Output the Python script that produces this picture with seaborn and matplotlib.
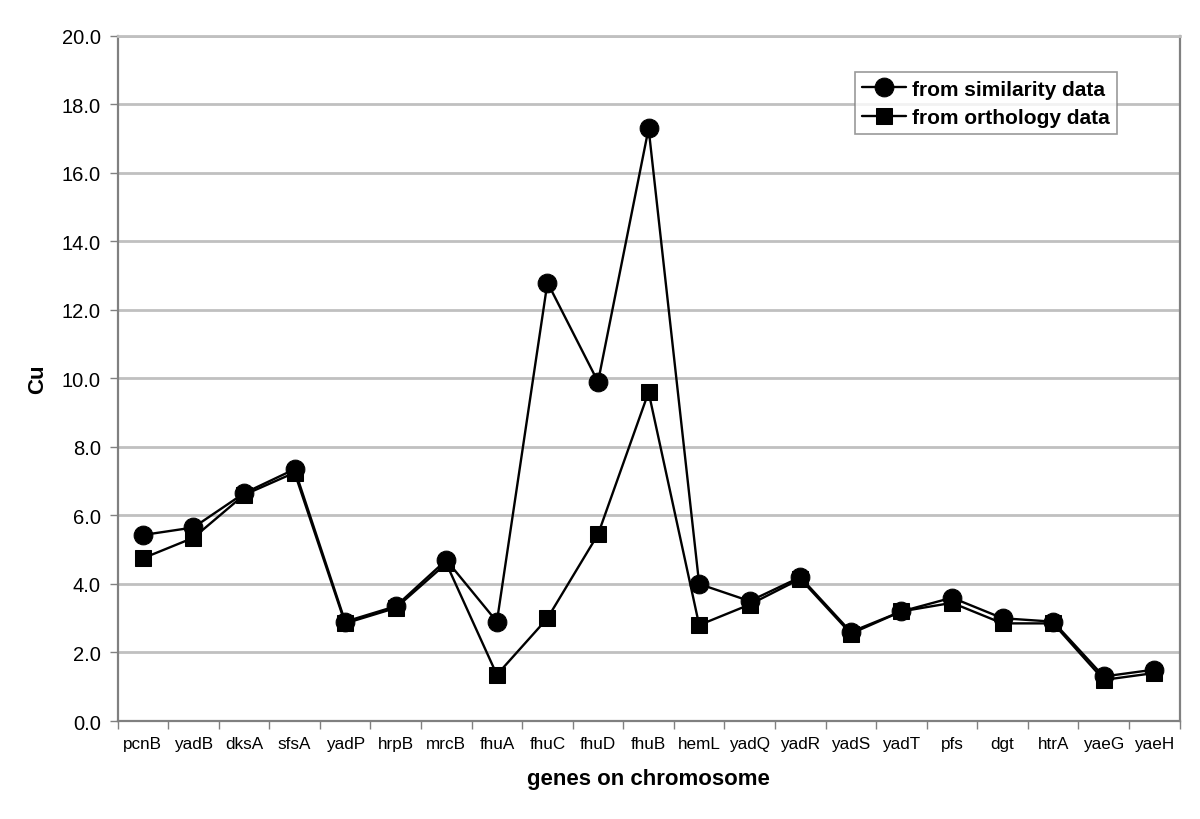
import numpy as np
import pandas as pd
import matplotlib
matplotlib.use('Agg')
import matplotlib.pyplot as plt
import seaborn as sns

genes = ['pcnB', 'yadB', 'dksA', 'sfsA', 'yadP', 'hrpB', 'mrcB', 'fhuA', 'fhuC', 'fhuD', 'fhuB',
         'hemL', 'yadQ', 'yadR', 'yadS', 'yadT', 'pfs', 'dgt', 'htrA', 'yaeG', 'yaeH']
similarity = [5.43, 5.65, 6.65, 7.35, 2.9, 3.35, 4.7, 2.9, 12.8, 9.9, 17.3,
              4.0, 3.5, 4.2, 2.6, 3.2, 3.6, 3.0, 2.9, 1.3, 1.5]
orthology = [4.75, 5.35, 6.6, 7.25, 2.85, 3.3, 4.6, 1.35, 3.0, 5.45, 9.6,
             2.8, 3.4, 4.15, 2.55, 3.2, 3.45, 2.85, 2.85, 1.2, 1.4]
yticks = [0, 2, 4, 6, 8, 10, 12, 14, 16, 18, 20]

sns.set_style('white')
plt.rcParams['font.family'] = ['Liberation Sans', 'DejaVu Sans']
plt.rcParams['text.color'] = 'black'
plt.rcParams['axes.labelcolor'] = 'black'
plt.rcParams['xtick.color'] = 'black'
plt.rcParams['ytick.color'] = 'black'

df = pd.DataFrame({'gene': genes, 'similarity': similarity, 'orthology': orthology})
df['pos'] = np.arange(len(genes))

fig = plt.figure(figsize=(12, 8.2), dpi=100)
ax = fig.add_axes([0.098, 0.1195, 0.885, 0.8355])

sns.lineplot(data=df, x='pos', y='similarity', ax=ax, color='black', lw=1.7,
             marker='o', markersize=13.5, markeredgecolor='black', label='from similarity data')
sns.lineplot(data=df, x='pos', y='orthology', ax=ax, color='black', lw=1.7,
             marker='s', markersize=12, markeredgecolor='black', label='from orthology data')

ax.set_xlim(-0.5, len(genes) - 0.5)
ax.set_ylim(0, 20)
ax.set_yticks(yticks)
ax.set_yticklabels([f'{v:.1f}' for v in yticks], fontsize=14.5)
ax.set_xticks(df['pos'])
ax.set_xticklabels(genes, fontsize=12.3)
ax.set_xticks(np.arange(-0.5, len(genes)), minor=True)
ax.tick_params(axis='x', which='major', length=0, pad=11)
ax.tick_params(axis='x', which='minor', length=6, width=1, color='#808080', direction='out', bottom=True)
ax.tick_params(axis='y', which='major', length=6, width=1, color='#808080', direction='out', left=True,
               pad=6, labelcolor='black')

ax.yaxis.grid(True, color='#c0c0c0', lw=2)
ax.set_axisbelow(True)
for s in ['left', 'bottom', 'right']:
    ax.spines[s].set_color('#808080')
    ax.spines[s].set_linewidth(1.6)
ax.spines['top'].set_color('#c0c0c0')
ax.spines['top'].set_linewidth(2)

ax.set_xlabel('genes on chromosome', fontsize=16, fontweight='bold', labelpad=12)
ax.set_ylabel('Cu', fontsize=16, fontweight='bold', labelpad=10)

leg = ax.legend(loc='upper right', bbox_to_anchor=(0.941, 0.947), fontsize=15, frameon=True,
                fancybox=False, edgecolor='#808080', handlelength=2.1, borderpad=0.35,
                labelspacing=0.45, handletextpad=0.3, borderaxespad=0)
for t in leg.get_texts():
    t.set_fontweight('bold')
leg.get_frame().set_linewidth(1.2)

fig.savefig('out.png', dpi=100)
